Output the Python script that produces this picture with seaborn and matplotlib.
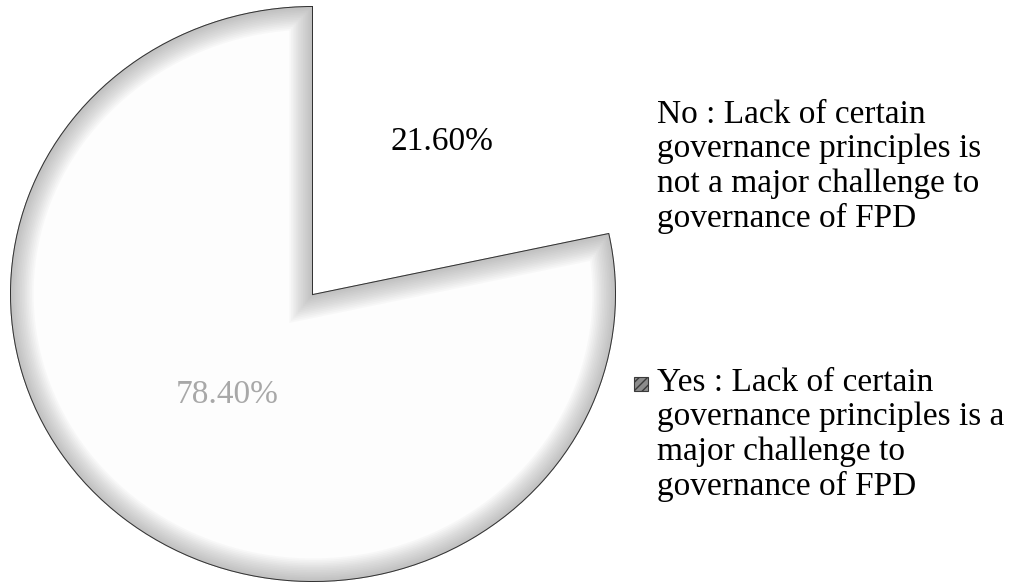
import numpy as np
import matplotlib
matplotlib.use("Agg")
import matplotlib.pyplot as plt
import seaborn as sns
from matplotlib.patches import Wedge, Rectangle

# Survey answers: is the lack of certain governance principles a major challenge?
categories = ["No", "Yes"]
shares = [21.6, 78.4]
legend_labels = [
    "No : Lack of certain\ngovernance principles is\nnot a major challenge to\ngovernance of FPD",
    "Yes : Lack of certain\ngovernance principles is a\nmajor challenge to\ngovernance of FPD",
]

sns.set_theme(style="white")
plt.rcParams["font.family"] = ["Liberation Serif", "DejaVu Serif"]

W, H = 1017, 583
fig = plt.figure(figsize=(W / 100, H / 100), dpi=100)
fig.patch.set_facecolor("white")

# pie area (pixels): centre and the two radii of the slightly oval pie
cx, cy, rx, ry = 313, 294, 303, 288
ax = fig.add_axes([(cx - rx) / W, (H - cy - ry) / H, 2 * rx / W, 2 * ry / H])

wedges, _, pct_texts = ax.pie(
    shares,
    startangle=90,
    counterclock=False,
    colors=["white", "#fdfdfd"],
    autopct="%.2f%%",
    wedgeprops=dict(linewidth=0),
    textprops=dict(fontsize=24),
)
ax.set_aspect("auto")
ax.set_xlim(-1, 1)
ax.set_ylim(-1, 1)
ax.axis("off")

# soft grey shading running along the inside edges of the "Yes" slice
yes = wedges[1]
for lw in np.linspace(34, 2, 14):
    glow = Wedge(yes.center, yes.r, yes.theta1, yes.theta2, fill=False,
                 edgecolor="#7a7a7a", linewidth=lw, alpha=0.04)
    ax.add_patch(glow)
    glow.set_clip_path(yes)
rim = Wedge(yes.center, yes.r, yes.theta1, yes.theta2, fill=False,
            edgecolor="#303030", linewidth=1.4)
ax.add_patch(rim)
rim.set_clip_path(yes)

# percentage labels placed along each slice's middle angle
label_dist = [0.68, 0.45]
label_colors = ["black", "#a8a8a8"]
for txt, w, d, c in zip(pct_texts, wedges, label_dist, label_colors):
    mid = np.deg2rad((w.theta1 + w.theta2) / 2)
    txt.set_position((d * np.cos(mid), d * np.sin(mid)))
    txt.set_color(c)

# legend entries on the right (positioned by the baseline of their last line)
legend_last_baselines = [227, 495]
for lab, base in zip(legend_labels, legend_last_baselines):
    fig.text(657 / W, 1 - base / H, lab, fontsize=24, va="baseline",
             ha="left", color="black", linespacing=1.17)
# swatch for the "Yes" entry ("No" slice is white, so its swatch is invisible)
fig.patches.append(Rectangle((634 / W, 1 - 391 / H), 14 / W, 14 / H,
                             transform=fig.transFigure, facecolor="#8c8c8c",
                             edgecolor="#3a3a3a", hatch="////", linewidth=0.8))

fig.savefig("out.png", dpi=100, facecolor="white")
